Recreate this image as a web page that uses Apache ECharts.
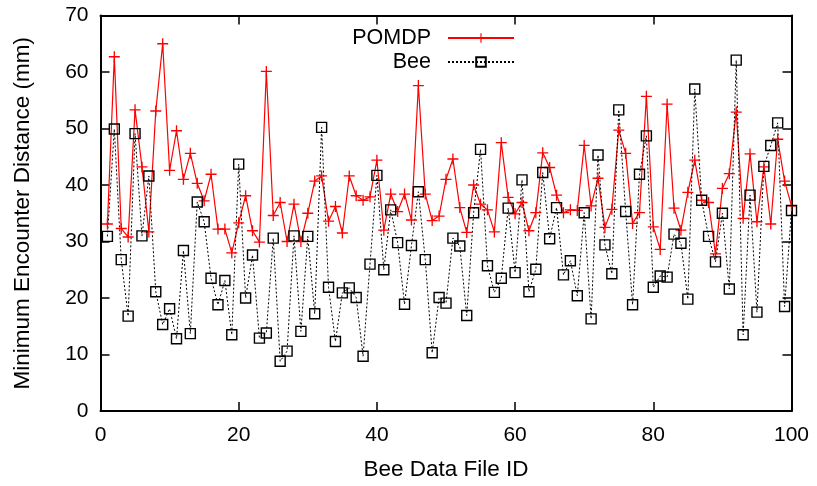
<html>
    <head>
        <meta charset="utf-8">
        <script src="https://cdn.jsdelivr.net/npm/echarts@6/dist/echarts.min.js"></script>
    </head>
    <body>
        <style>
            html, body, #main {
                width: 100%;
                height: 100%;
                margin: 0;
                background: #fff;
            }
        </style>
        <div id="main"></div>
        <script>
            var fileIds = [1, 2, 3, 4, 5, 6, 7, 8, 9, 10, 11, 12, 13, 14, 15, 16, 17, 18, 19, 20,
                21, 22, 23, 24, 25, 26, 27, 28, 29, 30, 31, 32, 33, 34, 35, 36, 37, 38, 39, 40,
                41, 42, 43, 44, 45, 46, 47, 48, 49, 50, 51, 52, 53, 54, 55, 56, 57, 58, 59, 60,
                61, 62, 63, 64, 65, 66, 67, 68, 69, 70, 71, 72, 73, 74, 75, 76, 77, 78, 79, 80,
                81, 82, 83, 84, 85, 86, 87, 88, 89, 90, 91, 92, 93, 94, 95, 96, 97, 98, 99, 100];

            var pomdp = [33.1, 62.7, 32.3, 30.8, 53.3, 43.2, 31.7, 53.1, 65.0, 42.6,
                49.6, 41.0, 45.6, 40.3, 37.2, 41.9, 32.2, 32.2, 28.0, 33.3,
                38.1, 31.9, 29.9, 60.1, 34.6, 36.9, 30.0, 36.6, 30.0, 35.0,
                40.7, 41.6, 33.6, 36.2, 31.5, 41.6, 38.1, 37.3, 37.9, 44.4,
                32.0, 38.4, 35.3, 38.4, 33.8, 57.6, 38.4, 33.7, 34.5, 41.0,
                44.6, 36.0, 31.6, 40.0, 36.6, 35.6, 31.7, 47.5, 37.8, 34.9,
                36.9, 31.9, 35.1, 45.7, 43.1, 38.2, 35.1, 35.6, 35.5, 47.0,
                36.3, 41.2, 32.5, 35.7, 49.7, 45.6, 33.2, 35.1, 55.7, 32.6,
                28.6, 54.3, 35.9, 32.0, 38.7, 44.4, 37.3, 36.9, 27.8, 39.4,
                42.0, 52.9, 34.1, 45.5, 33.5, 43.2, 33.1, 48.1, 40.7, 36.3];

            var bee = [30.9, 49.9, 26.8, 16.8, 49.1, 31.0, 41.6, 21.1, 15.3, 18.1,
                12.8, 28.4, 13.7, 37.0, 33.5, 23.5, 18.8, 23.1, 13.5, 43.7,
                20.0, 27.6, 12.9, 13.8, 30.6, 8.8, 10.6, 31.0, 14.1, 30.9,
                17.2, 50.2, 21.9, 12.3, 20.9, 21.8, 20.1, 9.7, 26.0, 41.7,
                25.0, 35.6, 29.8, 18.9, 29.3, 38.8, 26.8, 10.3, 20.1, 19.1,
                30.6, 29.2, 16.9, 35.1, 46.3, 25.7, 21.0, 23.5, 35.9, 24.5,
                40.9, 21.1, 25.1, 42.2, 30.5, 36.0, 24.1, 26.6, 20.4, 35.1,
                16.3, 45.3, 29.4, 24.3, 53.3, 35.3, 18.8, 41.9, 48.7, 21.9,
                23.9, 23.7, 31.3, 29.7, 19.8, 57.0, 37.3, 30.9, 26.4, 35.0,
                21.6, 62.1, 13.5, 38.2, 17.5, 43.3, 47.0, 51.0, 18.5, 35.5];

            var font = "'Liberation Sans', Arial, Helvetica, sans-serif";
            var plusSymbol = 'path://M4.4,0h1.2v4.4h4.4v1.2h-4.4v4.4h-1.2v-4.4h-4.4v-1.2h4.4z';

            function pairs(ys) {
                return fileIds.map(function (x, i) { return [x, ys[i]]; });
            }

            function frameAxis(pos, min, max, interval) {
                return {
                    type: 'value',
                    position: pos,
                    min: min,
                    max: max,
                    interval: interval,
                    axisLine: { show: true, onZero: false, lineStyle: { color: '#000', width: 2 } },
                    axisTick: { show: true, inside: true, length: 9, lineStyle: { color: '#000', width: 1.5 } },
                    axisLabel: { show: false },
                    splitLine: { show: false }
                };
            }

            function legendFor(name, top) {
                return {
                    data: [name],
                    right: 297,
                    top: top,
                    align: 'right',
                    itemWidth: 66,
                    itemHeight: 12,
                    textStyle: { fontFamily: font, fontSize: 21.5, color: '#000', padding: [0, 12, 0, 0] }
                };
            }

            var chart = echarts.init(document.getElementById('main'));
            var option = {
                backgroundColor: '#fff',
                animation: false,
                grid: { left: 100.5, right: 25.5, top: 15.5, bottom: 74.3 },
                legend: [legendFor('POMDP', 22), legendFor('Bee', 46)],
                xAxis: [Object.assign(frameAxis('bottom', 0, 100, 20), {
                    name: 'Bee Data File ID',
                    nameLocation: 'middle',
                    nameGap: 47,
                    nameTextStyle: { fontFamily: font, fontSize: 22.5, color: '#000' },
                    axisLabel: { show: true, margin: 14, fontFamily: font, fontSize: 21, color: '#000' }
                }), frameAxis('top', 0, 100, 20)],
                yAxis: [Object.assign(frameAxis('left', 0, 70, 10), {
                    name: 'Minimum Encounter Distance (mm)',
                    nameLocation: 'middle',
                    nameGap: 66,
                    nameTextStyle: { fontFamily: font, fontSize: 22.5, color: '#000' },
                    axisLabel: { show: true, margin: 12, fontFamily: font, fontSize: 21, color: '#000' }
                }), frameAxis('right', 0, 70, 10)],
                series: [{
                    name: 'POMDP',
                    type: 'line',
                    data: pairs(pomdp),
                    symbol: plusSymbol,
                    symbolSize: 11,
                    showAllSymbol: true,
                    lineStyle: { color: '#ff0000', width: 1.2 },
                    itemStyle: { color: '#ff0000' }
                }, {
                    name: 'Bee',
                    type: 'line',
                    data: pairs(bee),
                    symbol: 'rect',
                    symbolSize: 10,
                    showAllSymbol: true,
                    lineStyle: { color: '#000', width: 1, type: [2, 2] },
                    itemStyle: { color: 'rgba(0,0,0,0)', borderColor: '#000', borderWidth: 1.4 }
                }]
            };
            chart.setOption(option);
            window.onresize = chart.resize;
        </script>
    </body>
</html>
